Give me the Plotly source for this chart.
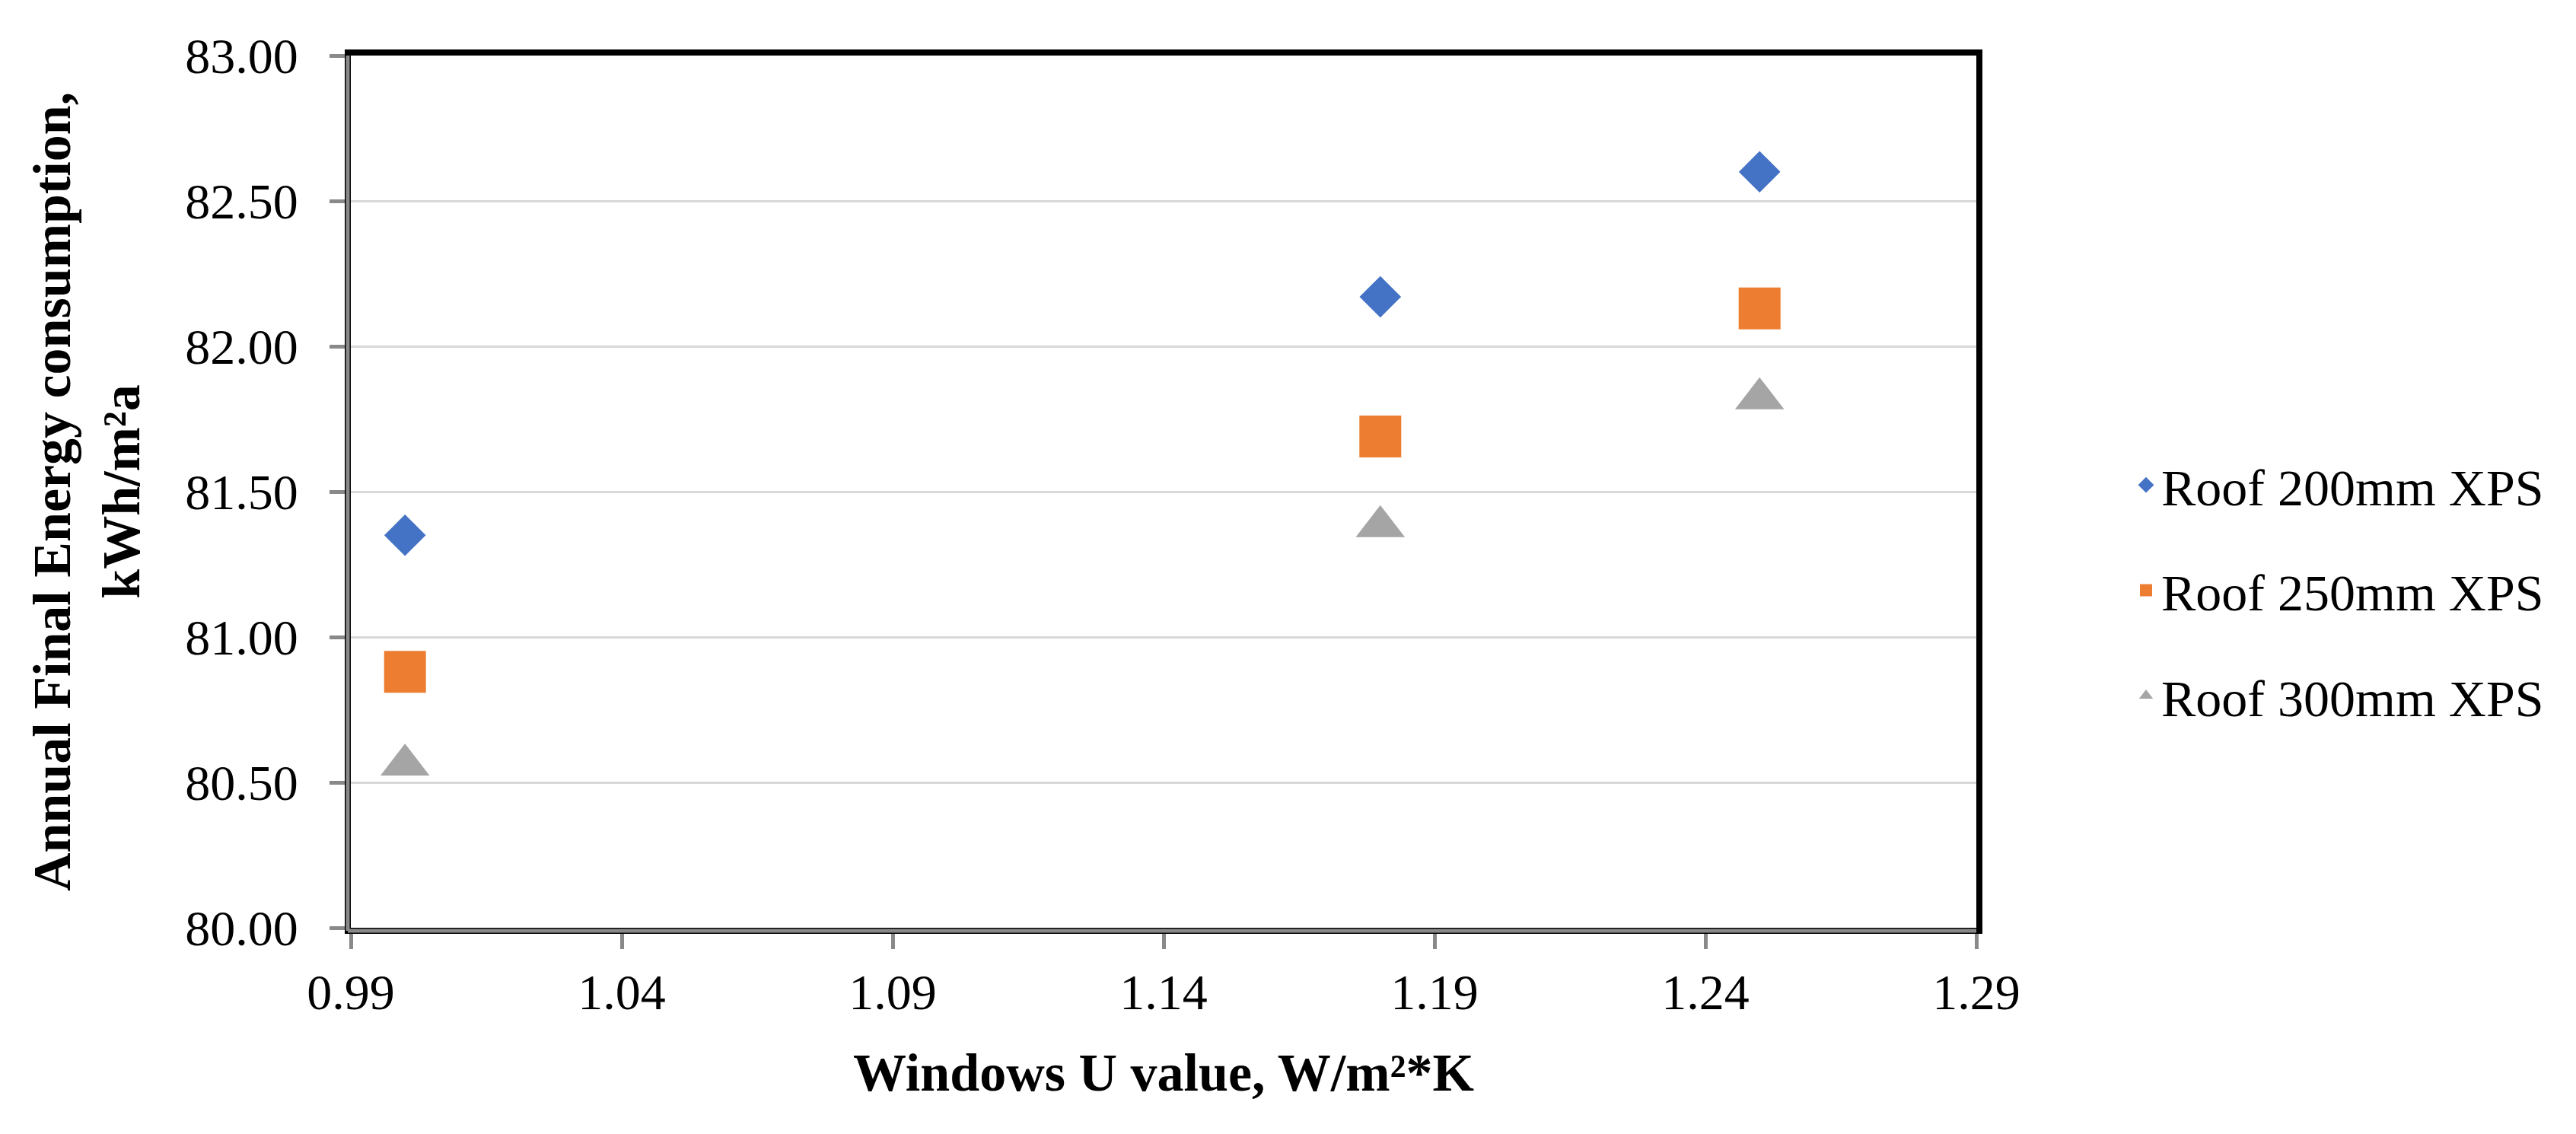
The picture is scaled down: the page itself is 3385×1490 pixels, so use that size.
import plotly.graph_objects as go

# ---- data ----
u_values = [1.00, 1.18, 1.25]
roof_200 = [81.35, 82.17, 82.60]
roof_250 = [80.88, 81.69, 82.13]
roof_300 = [80.56, 81.38, 81.82]

series_names = ["Roof 200mm XPS", "Roof 250mm XPS", "Roof 300mm XPS"]
series_colors = ["#4472C4", "#ED7D31", "#A5A5A5"]
series_symbols = ["diamond", "square", "triangle-up"]
series_sizes = [42, 55, 56]

x_title = "<b>Windows U value, W/m²*K</b>"
y_title = "<b>Annual Final Energy consumption,<br>kWh/m²a</b>"

FONT = "Palatino Linotype, Book Antiqua, Palatino, Liberation Serif, serif"
W, H = 3385, 1490
PL, PR, PT, PB = 453, 2589, 65, 1211  # plot-area edges in pixels

fig = go.Figure()
for i, (name, vals) in enumerate(zip(series_names, [roof_200, roof_250, roof_300])):
    fig.add_trace(go.Scatter(
        x=u_values, y=vals, mode="markers", name=name,
        legendgroup=name,
        marker=dict(symbol=series_symbols[i], size=series_sizes[i],
                    color=series_colors[i], line=dict(width=0)),
        cliponaxis=False,
    ))

axis_common = dict(
    showline=True, linecolor="black", linewidth=8, mirror=True,
    ticks="outside", tickcolor="#898989", tickwidth=5, ticklen=20,
    tickfont=dict(family=FONT, size=66, color="black"),
    zeroline=False,
)

fig.update_xaxes(
    range=[0.99, 1.29], tick0=0.99, dtick=0.05, tickformat=".2f",
    showgrid=False,
    title=dict(text=x_title, font=dict(family=FONT, size=70, color="black"), standoff=48),
    **axis_common,
)
fig.update_yaxes(
    range=[80, 83], tick0=80, dtick=0.5, tickformat=".2f",
    showgrid=True, gridcolor="#D9D9D9", gridwidth=3,
    ticklabelstandoff=28,
    title=dict(text=y_title, font=dict(family=FONT, size=70, color="black"), standoff=40),
    **axis_common,
)

# gray axis lines drawn over the black plot border (left and bottom)
dx = -4 / (PR - PL)
dy = -4 / (PB - PT)
fig.add_shape(type="line", xref="x domain", yref="y domain", x0=dx, x1=dx, y0=dy, y1=1,
              line=dict(color="#898989", width=5), layer="above")
fig.add_shape(type="line", xref="x domain", yref="y domain", x0=dx, x1=1, y0=dy, y1=dy,
              line=dict(color="#898989", width=5), layer="above")

fig.update_layout(
    width=W, height=H,
    margin=dict(l=PL, r=W - PR, t=PT, b=H - PB, autoexpand=False),
    paper_bgcolor="white", plot_bgcolor="white",
    font=dict(family=FONT, size=66, color="black"),
    showlegend=True,
    legend=dict(x=(2792 - PL) / (PR - PL), xanchor="left",
                y=(PB - 768) / (PB - PT), yanchor="middle",
                font=dict(family=FONT, size=68, color="black"),
                tracegroupgap=47, bgcolor="rgba(0,0,0,0)"),
)

fig.write_html("out.html")
